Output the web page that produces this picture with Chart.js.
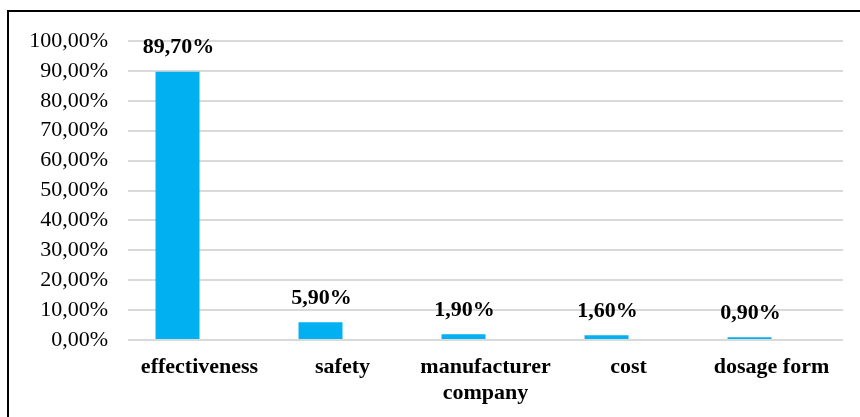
<!DOCTYPE html>
<html>
<head>
<meta charset="utf-8">
<script src="https://cdn.jsdelivr.net/npm/chart.js@4"></script>
<style>
  html, body { margin: 0; padding: 0; background: #fff; overflow: hidden; }
  body { width: 860px; height: 417px; position: relative; }
  .frame {
    position: absolute; left: 7px; top: 10px; right: -20px; bottom: -20px;
    border: 2px solid #000;
  }
  #chart { position: absolute; left: 0; top: 0; }
</style>
</head>
<body>
<div class="frame"></div>
<canvas id="chart" width="860" height="417"></canvas>
<script>
// reasons given by respondents (share of answers, %)
const categories = ['effectiveness', 'safety', ['manufacturer', 'company'], 'cost', 'dosage form'];
const shares = [89.7, 5.9, 1.9, 1.6, 0.9];
// second series slot of the original layout, left empty
const secondSeries = [];

const yTicksMax = 100;
const yTicksStep = 10;

const pct = (v) => v.toFixed(2).replace('.', ',') + '%';

const serif = '"Liberation Serif", "Times New Roman", serif';

// value labels above the bars
const valueLabels = {
  id: 'valueLabels',
  afterDatasetsDraw(chart) {
    const ctx = chart.ctx;
    const meta = chart.getDatasetMeta(0);
    ctx.save();
    ctx.font = 'bold 22px ' + serif;
    ctx.fillStyle = '#000';
    ctx.textAlign = 'center';
    ctx.textBaseline = 'middle';
    meta.data.forEach((bar, i) => {
      ctx.fillText(pct(shares[i]), bar.x + 1, bar.y - 24);
    });
    ctx.restore();
  }
};

new Chart(document.getElementById('chart').getContext('2d'), {
  type: 'bar',
  data: {
    labels: categories,
    datasets: [
      {
        data: shares,
        backgroundColor: '#00b0f0',
        borderWidth: 0,
        categoryPercentage: 0.615,
        barPercentage: 1.0,
      },
      {
        data: secondSeries,
        backgroundColor: '#00b0f0',
        categoryPercentage: 0.615,
        barPercentage: 1.0,
      },
    ],
  },
  options: {
    responsive: false,
    animation: false,
    devicePixelRatio: 1,
    layout: { padding: { top: 41, right: 17, bottom: 0, left: 0 } },
    plugins: {
      legend: { display: false },
      tooltip: { enabled: false },
    },
    scales: {
      x: {
        grid: { display: false, drawTicks: false },
        border: { display: false },
        ticks: {
          color: '#000',
          padding: 14,
          maxRotation: 0,
          autoSkip: false,
          font: { family: serif, size: 22, weight: 'bold', lineHeight: 1.2 },
        },
        afterFit(scale) { scale.height = 77; },
      },
      y: {
        min: 0,
        max: yTicksMax,
        grid: { color: '#d9d9d9', lineWidth: 2, drawTicks: false },
        border: { display: false },
        ticks: {
          stepSize: yTicksStep,
          color: '#000',
          padding: 20,
          font: { family: serif, size: 22 },
          callback: (v) => pct(v),
        },
        afterFit(scale) { scale.width = 128; },
      },
    },
  },
  plugins: [valueLabels],
});
</script>
</body>
</html>
